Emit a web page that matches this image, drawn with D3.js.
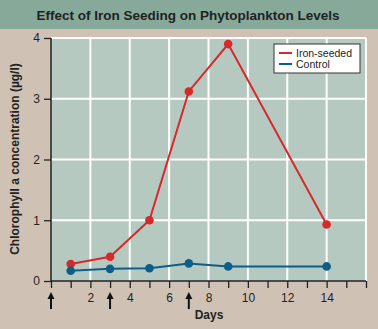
<!DOCTYPE html>
<html>
<head>
<meta charset="utf-8">
<script src="https://cdn.jsdelivr.net/npm/d3@7"></script>
<style>
  html, body { margin: 0; padding: 0; background: #cfc2b5; }
  svg { display: block; font-family: "Liberation Sans", Arial, sans-serif; }
</style>
</head>
<body>
<div id="chart"></div>
<script>
// Data.
var days = [1, 3, 5, 7, 9, 14];
var ironSeeded = [0.28, 0.40, 1.00, 3.12, 3.90, 0.93];
var control = [0.17, 0.20, 0.21, 0.29, 0.24, 0.24];
var xTickLabels = [2, 4, 6, 8, 10, 12, 14];
var yTickLabels = [0, 1, 2, 3, 4];
var seedingDays = [0, 3, 7];
var seriesNames = ["Iron-seeded", "Control"];

var width = 378, height = 329;
var margin = {top: 38, left: 51, bottom: 48, right: 12};

var svg = d3.select("#chart").append("svg")
    .attr("width", width)
    .attr("height", height);

// Background and title band.
svg.append("rect").attr("width", width).attr("height", height).attr("fill", "#cfc2b5");
svg.append("rect").attr("width", width).attr("height", 29).attr("fill", "#86a99a");
svg.append("text")
    .attr("x", 188).attr("y", 19.5)
    .attr("text-anchor", "middle")
    .attr("font-size", 13.5).attr("font-weight", "bold").attr("fill", "#222")
    .text("Effect of Iron Seeding on Phytoplankton Levels");

var x = d3.scaleLinear().domain([0, 16]).range([51, 366]);
var y = d3.scaleLinear().domain([0, 4]).range([281, 38]);

// Plot area.
svg.append("rect")
    .attr("x", x(0)).attr("y", y(4))
    .attr("width", x(16) - x(0)).attr("height", y(0) - y(4))
    .attr("fill", "#b5c9c0");

// White grid.
var grid = svg.append("g").attr("stroke", "#fff").attr("stroke-width", 2);
grid.selectAll("line.v")
    .data(d3.range(2, 17, 2))
    .enter().append("line")
    .attr("x1", function (d) { return x(d); }).attr("x2", function (d) { return x(d); })
    .attr("y1", y(0)).attr("y2", y(4));
grid.selectAll("line.h")
    .data([1, 2, 3, 4])
    .enter().append("line")
    .attr("x1", x(0)).attr("x2", x(16))
    .attr("y1", function (d) { return y(d); }).attr("y2", function (d) { return y(d); });

// Axes.
var yAxis = svg.append("g")
    .attr("transform", "translate(" + x(0) + ",0)")
    .call(d3.axisLeft(y).tickValues(yTickLabels).tickSize(7).tickPadding(4).tickFormat(d3.format("d")));
var xAxis = svg.append("g")
    .attr("transform", "translate(0," + y(0) + ")")
    .call(d3.axisBottom(x).tickValues(d3.range(0, 17)).tickSize(7).tickPadding(5)
        .tickFormat(function (d) { return xTickLabels.indexOf(d) >= 0 ? d : ""; }));
[xAxis, yAxis].forEach(function (a) {
    a.select(".domain").attr("stroke", "#222").attr("stroke-width", 1.5);
    a.selectAll(".tick line").attr("stroke", "#222").attr("stroke-width", 1.3);
    a.selectAll(".tick text").attr("font-size", 12).attr("fill", "#222")
        .attr("font-family", "'Liberation Sans', Arial, sans-serif");
});
xAxis.select(".domain").attr("d", "M" + x(0) + ",0H" + x(16));
yAxis.select(".domain").attr("d", "M0," + y(0) + "V" + y(4));

// Arrows marking iron seeding.
var arrows = svg.append("g").attr("fill", "#111").attr("stroke", "#111");
arrows.selectAll("line")
    .data(seedingDays)
    .enter().append("line")
    .attr("x1", function (d) { return x(d); }).attr("x2", function (d) { return x(d); })
    .attr("y1", 297).attr("y2", 309)
    .attr("stroke-width", 2);
arrows.selectAll("path")
    .data(seedingDays)
    .enter().append("path")
    .attr("stroke", "none")
    .attr("d", function (d) { return "M" + (x(d) - 3.5) + ",299L" + x(d) + ",292L" + (x(d) + 3.5) + ",299Z"; });

// Axis titles.
svg.append("text")
    .attr("x", 209).attr("y", 319)
    .attr("text-anchor", "middle")
    .attr("font-size", 12).attr("font-weight", "bold").attr("fill", "#222")
    .text("Days");
svg.append("text")
    .attr("transform", "translate(19,159) rotate(-90)")
    .attr("text-anchor", "middle")
    .attr("font-size", 12).attr("font-weight", "bold").attr("fill", "#222")
    .text("Chlorophyll a concentration (µg/l)");

// Series.
var series = [
    {name: seriesNames[0], values: ironSeeded, color: "#d7282a"},
    {name: seriesNames[1], values: control, color: "#0b5e8a"}
];
var line = d3.line()
    .x(function (d) { return x(d[0]); })
    .y(function (d) { return y(d[1]); });

series.forEach(function (s) {
    var pts = d3.zip(days, s.values);
    svg.append("path")
        .datum(pts)
        .attr("fill", "none")
        .attr("stroke", s.color)
        .attr("stroke-width", 2)
        .attr("d", line);
    svg.append("g").selectAll("circle")
        .data(pts)
        .enter().append("circle")
        .attr("cx", function (d) { return x(d[0]); })
        .attr("cy", function (d) { return y(d[1]); })
        .attr("r", 4.3)
        .attr("fill", s.color);
});

// Legend.
var legend = svg.append("g").attr("transform", "translate(274,44)");
legend.append("rect")
    .attr("width", 86).attr("height", 29)
    .attr("fill", "#fff").attr("stroke", "#333").attr("stroke-width", 1);
var item = legend.selectAll("g.item")
    .data(series)
    .enter().append("g")
    .attr("transform", function (d, i) { return "translate(0," + (9 + i * 11) + ")"; });
item.append("line")
    .attr("x1", 5).attr("x2", 18)
    .attr("stroke", function (d) { return d.color; })
    .attr("stroke-width", 2);
item.append("text")
    .attr("x", 22).attr("y", 4)
    .attr("font-size", 10.5).attr("fill", "#222")
    .text(function (d) { return d.name; });
</script>
</body>
</html>
